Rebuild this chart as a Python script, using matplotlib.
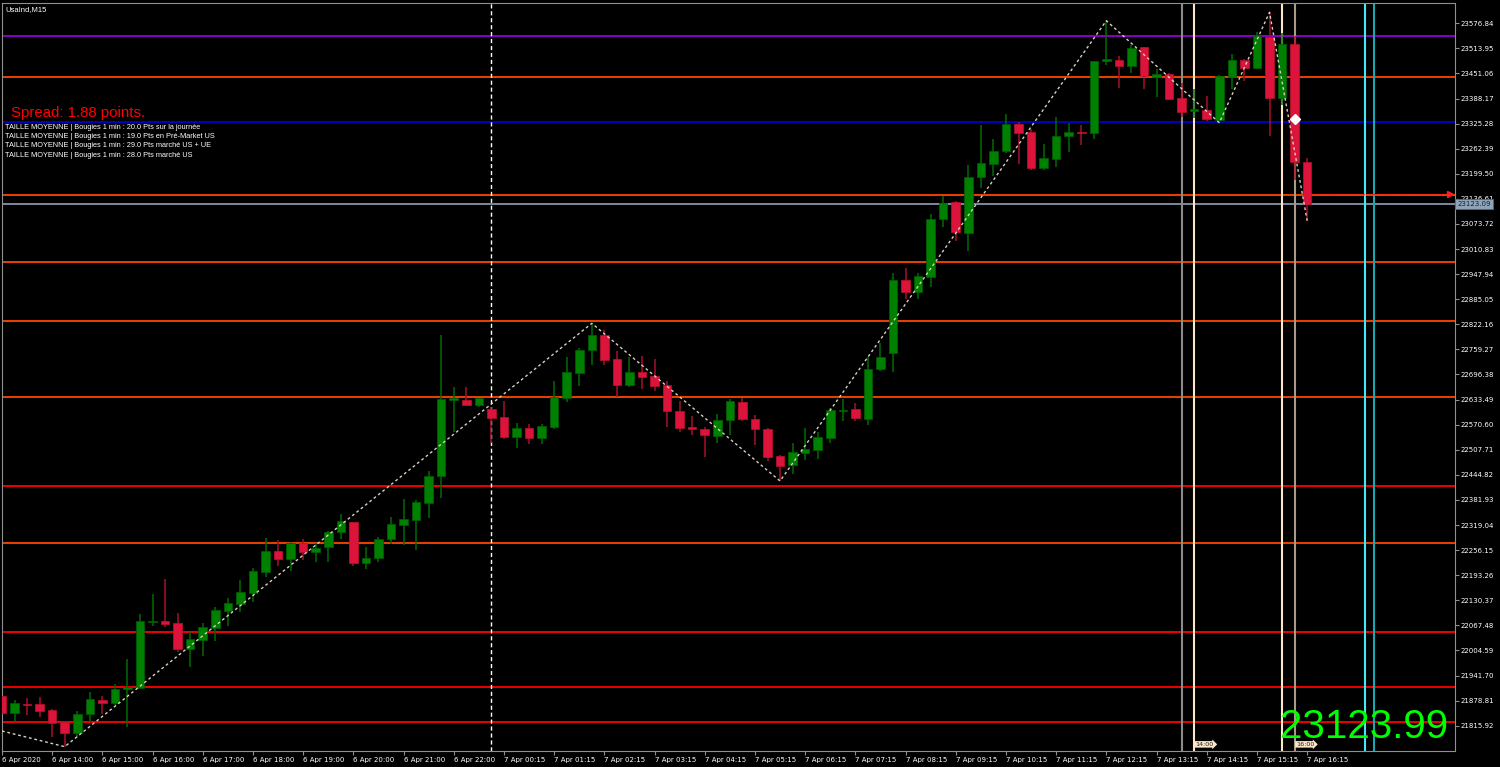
import numpy as np
import matplotlib.pyplot as plt

# UsaInd M15 candles, 6 Apr 13:00 -> 7 Apr 16:15
opens = [21891.2, 21848.5, 21870.3, 21870.3, 21855.3, 21824.4, 21796.9, 21844.5, 21881.1, 21872.1,
         21907.2, 21911.2, 22075.9, 22078.4, 22072.6, 22008.2, 22031.5, 22061.6, 22104.2, 22121.8,
         22149.4, 22202.0, 22253.9, 22233.8, 22273.2, 22252.1, 22263.2, 22300.8, 22325.8, 22223.8,
         22237.1, 22283.2, 22319.8, 22331.6, 22375.0, 22441.9, 22633.2, 22632.4, 22620.7, 22610.6,
         22589.8, 22539.7, 22562.3, 22537.9, 22565.5, 22638.2, 22700.1, 22757.0, 22795.4, 22735.2,
         22670.8, 22703.4, 22691.9, 22670.1, 22605.6, 22564.8, 22560.5, 22543.0, 22582.3, 22627.4,
         22584.8, 22559.8, 22492.1, 22469.5, 22499.6, 22507.9, 22537.2, 22604.1, 22609.9, 22585.6,
         22709.4, 22749.5, 22933.3, 22904.0, 22940.8, 23085.5, 23128.8, 23051.9, 23192.3, 23224.9,
         23256.7, 23324.4, 23303.6, 23214.8, 23237.4, 23293.5, 23305.1, 23301.8, 23483.1, 23485.6,
         23470.5, 23516.7, 23442.2, 23450.5, 23389.6, 23357.0, 23359.5, 23334.4, 23443.0, 23484.1,
         23465.5, 23543.2, 23390.3, 23524.9, 23228.4]
highs = [21897.9, 21879.1, 21886.1, 21887.9, 21857.8, 21825.9, 21853.5, 21900.4, 21891.2, 21920.5,
         21983.9, 22095.2, 22146.9, 22182.9, 22097.7, 22051.6, 22074.1, 22114.2, 22136.8, 22181.2,
         22211.3, 22286.5, 22281.5, 22275.7, 22284.0, 22273.2, 22304.8, 22345.9, 22327.4, 22264.7,
         22289.7, 22339.1, 22385.0, 22381.7, 22454.5, 22795.4, 22664.3, 22664.3, 22638.2, 22614.2,
         22630.0, 22575.5, 22572.3, 22571.5, 22680.1, 22741.0, 22762.1, 22824.7, 22807.9, 22756.0,
         22741.0, 22742.8, 22735.2, 22680.1, 22630.0, 22592.3, 22564.0, 22596.6, 22634.2, 22637.5,
         22594.8, 22561.0, 22494.6, 22523.9, 22562.3, 22553.0, 22611.6, 22634.2, 22624.9, 22741.0,
         22776.1, 22950.1, 22962.6, 22950.1, 23098.7, 23143.9, 23132.1, 23221.6, 23321.9, 23286.8,
         23350.2, 23329.4, 23312.6, 23273.5, 23341.9, 23326.9, 23321.9, 23482.3, 23583.4, 23494.8,
         23522.4, 23518.2, 23462.2, 23453.0, 23426.4, 23411.4, 23394.6, 23447.2, 23499.9, 23488.1,
         23555.8, 23604.4, 23551.8, 23545.0, 23239.2]
lows = [21845.2, 21824.4, 21842.7, 21837.0, 21788.3, 21763.3, 21788.3, 21825.9, 21846.0, 21867.8,
        21813.4, 21910.4, 22066.6, 22064.1, 22001.4, 21962.3, 21991.4, 22028.3, 22065.1, 22100.2,
        22125.3, 22189.5, 22217.0, 22204.5, 22231.3, 22225.6, 22227.1, 22283.2, 22216.3, 22208.0,
        22227.1, 22270.7, 22268.9, 22256.4, 22335.9, 22386.8, 22553.0, 22618.2, 22615.7, 22523.9,
        22533.9, 22511.4, 22522.9, 22521.4, 22559.0, 22627.4, 22668.3, 22720.2, 22720.2, 22639.2,
        22665.8, 22660.0, 22655.0, 22564.0, 22553.0, 22544.7, 22490.3, 22525.4, 22544.7, 22580.6,
        22519.6, 22480.3, 22429.4, 22447.7, 22482.0, 22484.5, 22525.4, 22580.6, 22580.6, 22569.8,
        22705.2, 22701.9, 22884.9, 22884.9, 22916.5, 23065.4, 23031.8, 23006.7, 23164.7, 23194.8,
        23252.4, 23224.9, 23209.8, 23209.8, 23216.6, 23254.9, 23271.7, 23287.5, 23472.3, 23415.4,
        23453.0, 23411.4, 23392.8, 23384.5, 23342.7, 23338.7, 23332.6, 23327.6, 23411.4, 23432.9,
        23463.0, 23295.0, 23372.0, 23184.0, 23082.0]
closes = [21848.5, 21872.1, 21867.8, 21853.5, 21822.0, 21797.6, 21846.0, 21882.1, 21872.1, 21907.2,
          21912.9, 22078.4, 22078.4, 22071.6, 22007.5, 22033.2, 22062.6, 22106.0, 22124.3, 22151.1,
          22203.8, 22253.9, 22233.8, 22273.2, 22252.1, 22262.2, 22301.5, 22328.3, 22224.6, 22237.1,
          22284.0, 22321.6, 22334.1, 22376.7, 22442.7, 22635.7, 22637.5, 22620.7, 22636.7, 22588.1,
          22539.7, 22562.3, 22537.9, 22567.3, 22639.2, 22701.9, 22757.8, 22795.4, 22733.5, 22670.8,
          22702.6, 22690.9, 22668.3, 22605.6, 22563.0, 22559.0, 22544.7, 22582.3, 22629.2, 22584.1,
          22559.8, 22490.3, 22467.8, 22501.3, 22510.4, 22538.9, 22607.4, 22608.1, 22587.3, 22710.9,
          22740.3, 22933.3, 22904.0, 22943.3, 23086.2, 23126.3, 23053.6, 23192.3, 23226.6, 23255.9,
          23324.4, 23301.8, 23214.8, 23238.4, 23294.3, 23304.3, 23302.6, 23481.6, 23486.6, 23469.0,
          23514.2, 23445.5, 23449.7, 23387.8, 23355.2, 23361.2, 23336.2, 23444.7, 23484.8, 23465.5,
          23545.0, 23390.3, 23524.9, 23229.1, 23123.09]

time_labels = ["6 Apr 2020", "6 Apr 14:00", "6 Apr 15:00", "6 Apr 16:00", "6 Apr 17:00", "6 Apr 18:00",
               "6 Apr 19:00", "6 Apr 20:00", "6 Apr 21:00", "6 Apr 22:00", "7 Apr 00:15", "7 Apr 01:15",
               "7 Apr 02:15", "7 Apr 03:15", "7 Apr 04:15", "7 Apr 05:15", "7 Apr 06:15", "7 Apr 07:15",
               "7 Apr 08:15", "7 Apr 09:15", "7 Apr 10:15", "7 Apr 11:15", "7 Apr 12:15", "7 Apr 13:15",
               "7 Apr 14:15", "7 Apr 15:15", "7 Apr 16:15"]

# zigzag pivots (bar index, price)
zz_bar = [0, 5, 47, 62, 88, 97, 101, 104]
zz_price = [21802.6, 21763.3, 22824.7, 22429.4, 23583.4, 23327.6, 23604.4, 23082.0]

# horizontal levels drawn on the chart
levels = [23545.7, 23441.5, 23330.1, 23146.4, 22979.2, 22831.3, 22639.2, 22416.8, 22274.7, 22050.8, 21912.2, 21825.9]
level_colors = ["#9400d3", "#ff4500", "#0000cd", "#ff4500", "#ff4500", "#ff4500", "#ff4500",
                "#ff0000", "#ff4500", "#ff0000", "#ff0000", "#ff0000"]

# vertical lines (bar position, colour)
vlines_pos = [94, 95, 102, 103, 108.63, 109.32]
vlines_col = ["#8c8c8c", "#fde6c8", "#fde6c8", "#a89a88", "#40e8f8", "#1aa8b0"]

bid = 23123.09
ask_line = 23148.9
last_price = "23123.99"
tick_top = 23576.84
tick_step = 62.89

info_lines = ["TAILLE MOYENNE | Bougies 1 min : 20.0 Pts sur la journée",
              "TAILLE MOYENNE | Bougies 1 min : 19.0 Pts en Pré-Market US",
              "TAILLE MOYENNE | Bougies 1 min : 29.0 Pts marché US + UE",
              "TAILLE MOYENNE | Bougies 1 min : 28.0 Pts marché US"]

W, H = 1500, 767
fig = plt.figure(figsize=(W / 100, H / 100), dpi=100, facecolor="black")
ax = fig.add_axes([1.7 / W, 1 - 750.7 / H, (1454.5 - 1.7) / W, (750.7 - 2.5) / H], facecolor="black")

o = np.array(opens)
h = np.array(highs)
l = np.array(lows)
c = np.array(closes)
x = np.arange(len(o))
up = c >= o

# horizontal levels
for lv, col in zip(levels, level_colors):
    ax.axhline(lv, color=col, lw=1.3, zorder=1)
ax.axhline(bid, color="#8fa3b8", lw=1.2, zorder=1)

# vertical lines
ax.axvline(39, color="white", lw=1, dashes=(3, 2), zorder=1)
for vx, col in zip(vlines_pos, vlines_col):
    ax.axvline(vx, color=col, lw=1.5, zorder=1)

# wicks and bodies
ax.vlines(x[up], l[up], h[up], color="#006a00", lw=1.1, zorder=2)
ax.vlines(x[~up], l[~up], h[~up], color="#a8102c", lw=1.1, zorder=2)
body_lo = np.minimum(o, c)
body_h = np.maximum(np.abs(c - o), 2.5)
ax.bar(x[up], body_h[up], bottom=body_lo[up], width=0.68, color="#008000", edgecolor="#006000", lw=0.5, zorder=3)
ax.bar(x[~up], body_h[~up], bottom=body_lo[~up], width=0.68, color="#dc143c", edgecolor="#c0102c", lw=0.5, zorder=3)

# zigzag
ax.plot(zz_bar, zz_price, color="#d8d0c0", lw=1, dashes=(2, 2), zorder=4)
ax.plot([103], [23336.9], marker="D", color="white", ms=5, zorder=5)

# ask line with arrow
ax.plot([104.3, 115.4], [ask_line, ask_line], color="#ff2020", lw=0.8, dashes=(3, 2), zorder=4)
ax.plot([115.4], [ask_line], marker=">", color="#ff2020", ms=4, zorder=4)

ax.set_xlim(-0.02, 115.74)
ax.set_ylim(21753.2, 23629.0)

# axes / ticks
for sp in ax.spines.values():
    sp.set_color("#909090")
ax.yaxis.tick_right()
yt = [tick_top - k * tick_step for k in range(29)]
ax.set_yticks(yt)
ax.set_yticklabels(["%.2f" % v for v in yt])
ax.tick_params(axis="y", colors="white", labelsize=5, length=3, pad=1.5, width=0.8)
ax.tick_params(axis="y", color="#909090")
ax.set_xticks(range(0, 105, 4))
ax.set_xticklabels(time_labels)
ax.tick_params(axis="x", colors="white", labelsize=5, length=3, pad=1.5, width=0.8)
ax.tick_params(axis="x", color="#909090")
for t in ax.get_xticklabels():
    t.set_horizontalalignment("left")

# price box on axis
ax.text(1.002, bid, "%.2f" % bid, transform=ax.get_yaxis_transform(), fontsize=5, color="#10203a",
        va="center", ha="left", zorder=10,
        bbox=dict(boxstyle="square,pad=0.3", fc="#8fa3b8", ec="#ff2020", lw=0.6), clip_on=False)

# time labels on vertical lines
for bx, txt in [(95, "14:00"), (103, "16:00")]:
    ax.text(bx + 0.1, 0.0085, txt, transform=ax.get_xaxis_transform(), fontsize=4.6, color="#202020",
            va="center", ha="left", zorder=10,
            bbox=dict(boxstyle="rarrow,pad=0.12", fc="#fde6c8", ec="none"))

# overlay texts
fig.text(5 / W, 1 - 11 / H, "UsaInd,M15", color="white", fontsize=5.5, family="Liberation Sans", va="baseline")
fig.text(11 / W, 1 - 117.5 / H, "Spread: 1.88 points.", color="#ff0000", fontsize=10.8,
         family="Liberation Sans", va="baseline")
for i, s in enumerate(info_lines):
    fig.text(5 / W, 1 - (128.7 + 9.35 * i) / H, s, color="white", fontsize=5.3,
             family="Liberation Sans", va="baseline")
fig.text(1448 / W, 1 - 738.5 / H, last_price, color="#00ff00", fontsize=29, family="Liberation Sans",
         ha="right", va="baseline")

fig.savefig("out.png", dpi=100, facecolor="black")
